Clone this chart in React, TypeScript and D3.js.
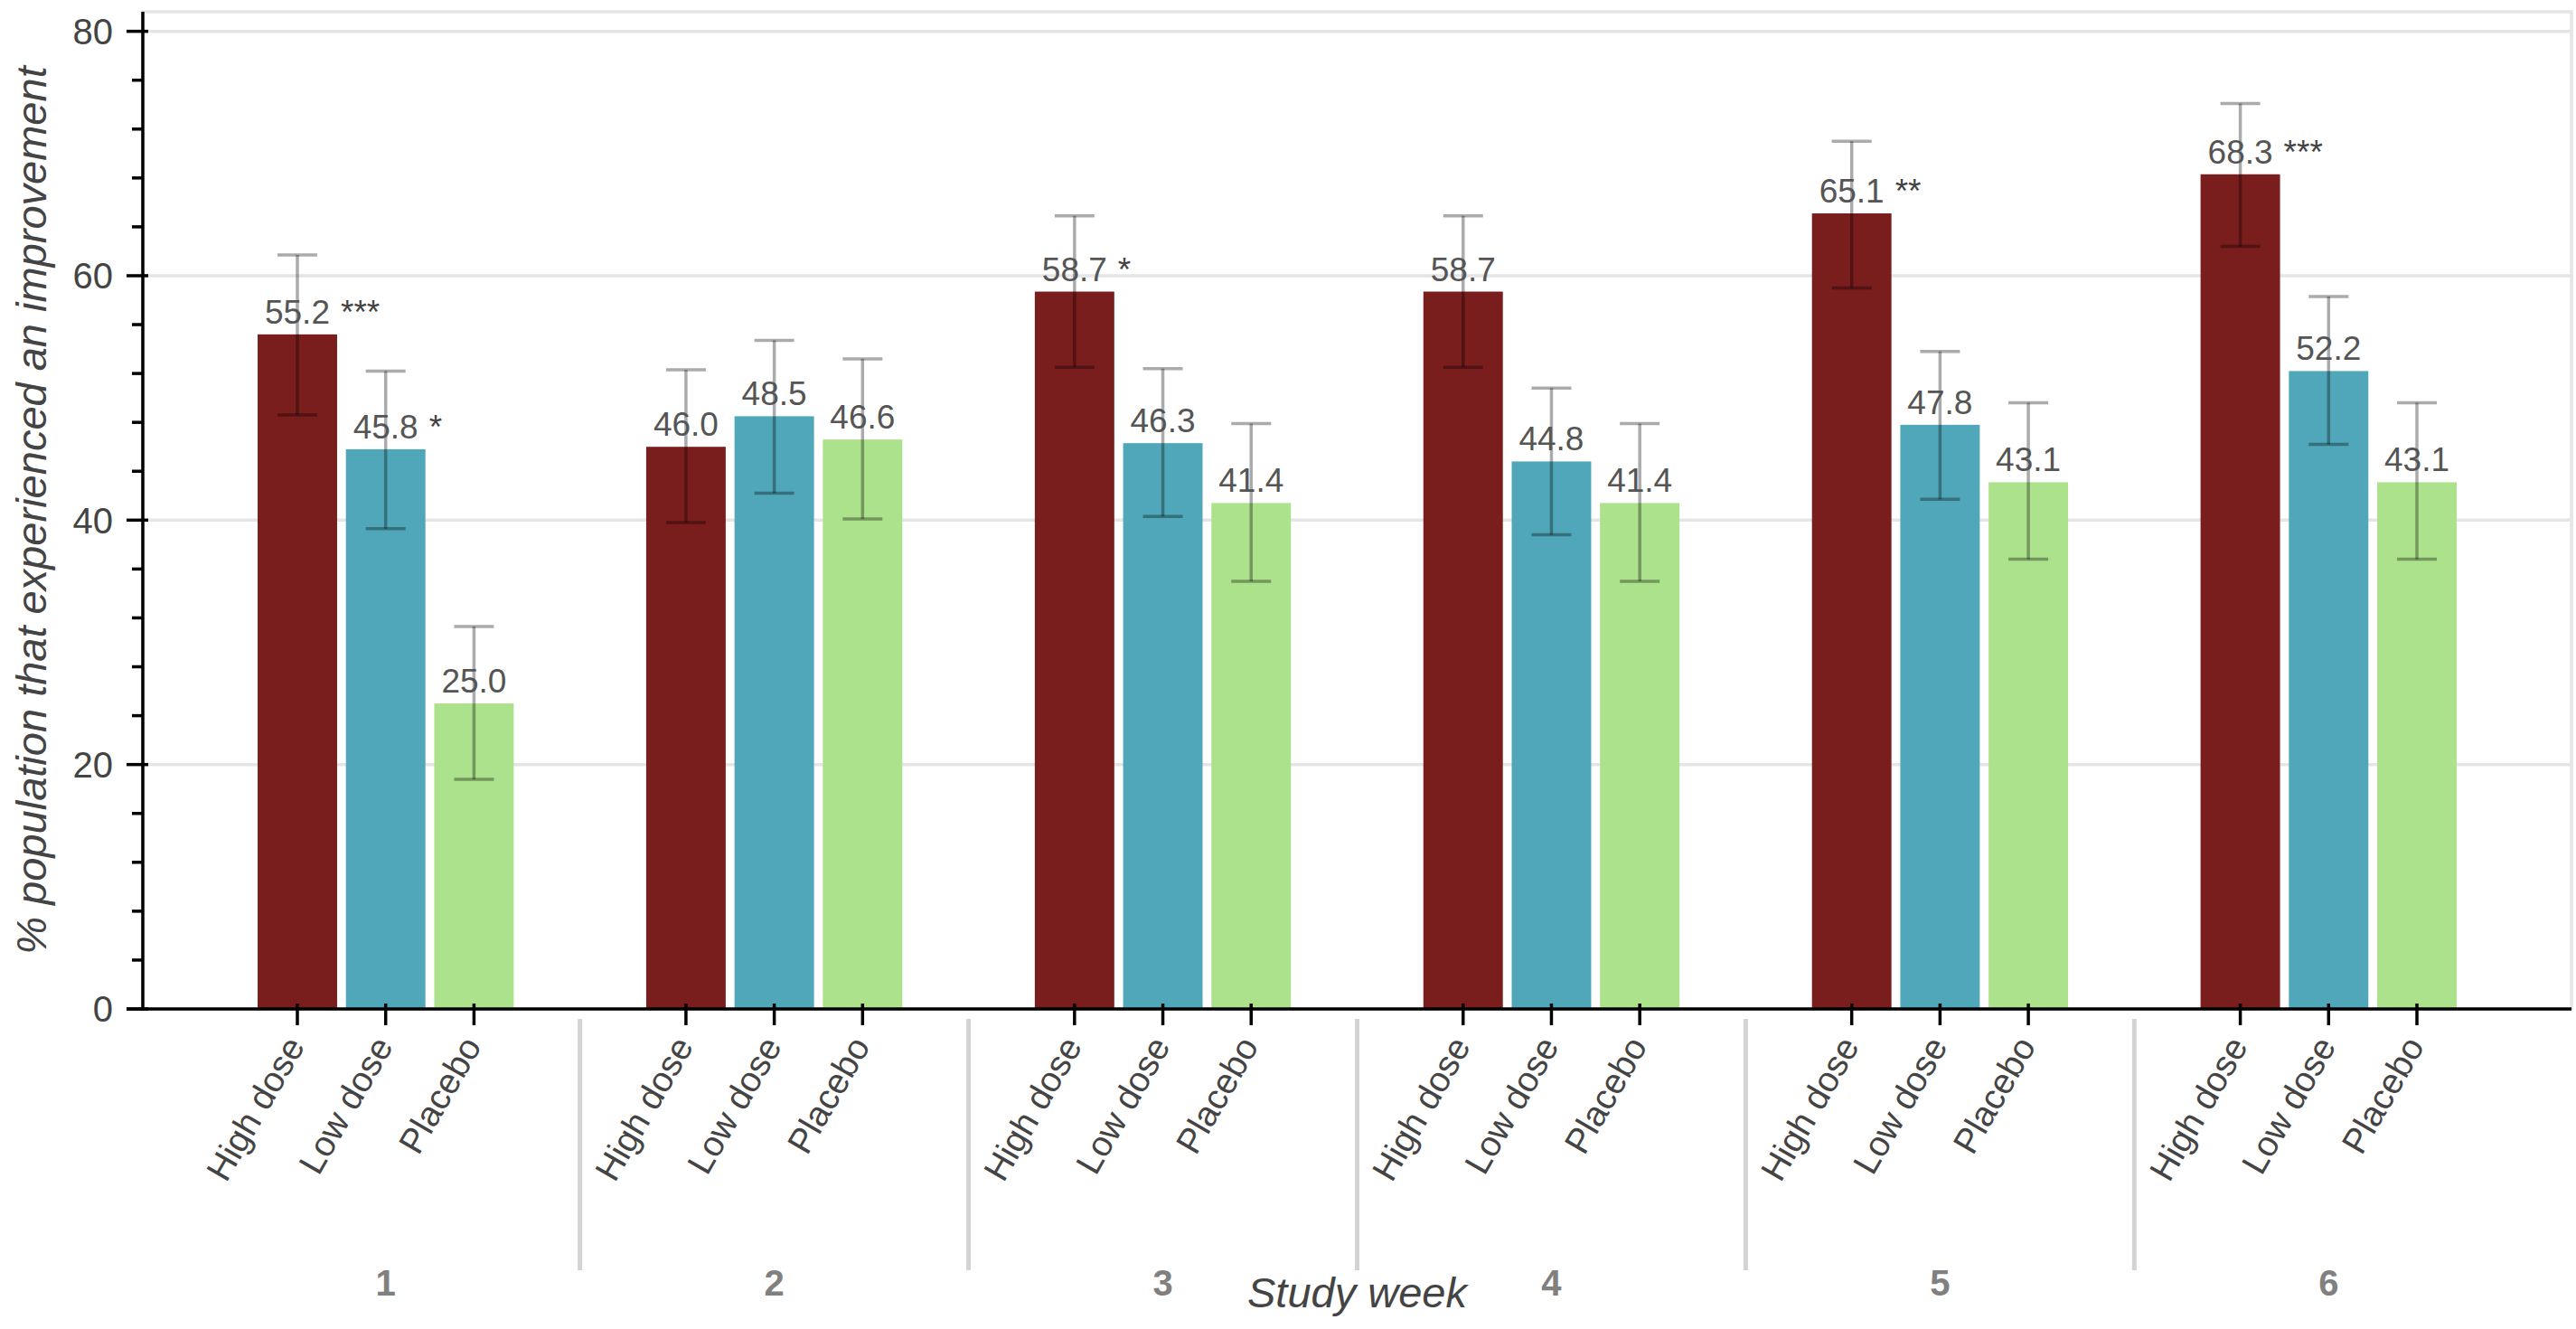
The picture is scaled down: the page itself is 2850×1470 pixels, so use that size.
import * as d3 from 'd3'
import React, { useEffect, useRef } from 'react'

const weeks = ['1', '2', '3', '4', '5', '6'];
const treatments = ['High dose', 'Low dose', 'Placebo'];
const colors = ['#7a1d1d', '#50a7b9', '#ace28b'];

const highDose = [55.2, 46.0, 58.7, 58.7, 65.1, 68.3];
const lowDose = [45.8, 48.5, 46.3, 44.8, 47.8, 52.2];
const placebo = [25.0, 46.6, 41.4, 41.4, 43.1, 43.1];

const highUpper = [61.7, 52.3, 64.9, 64.9, 71.0, 74.1];
const highLower = [48.6, 39.8, 52.5, 52.5, 59.0, 62.4];
const lowUpper = [52.2, 54.7, 52.4, 50.8, 53.8, 58.3];
const lowLower = [39.3, 42.2, 40.3, 38.8, 41.7, 46.2];
const placeboUpper = [31.3, 53.2, 47.9, 47.9, 49.6, 49.6];
const placeboLower = [18.8, 40.1, 35.0, 35.0, 36.8, 36.8];

const highStars = ['***', '', '*', '', '**', '***'];
const lowStars = ['*', '', '', '', '', ''];
const placeboStars = ['', '', '', '', '', ''];

const yMajor = [0, 20, 40, 60, 80];

const W = 2850;
const H = 1470;
const FONT = '"Liberation Sans", Arial, Helvetica, sans-serif';

interface Row {
    week: string;
    treatment: string;
    value: number;
    lower: number;
    upper: number;
    stars: string;
    color: string;
}

const App: React.FC = () => {
    const ref = useRef<SVGSVGElement>(null);

    useEffect(() => {
        document.body.style.margin = '0';
        if (!ref.current) return;
        const svg = d3.select(ref.current);
        svg.selectAll('*').remove();

        const margin = { top: 13, right: 5, bottom: 354, left: 158 };
        const bottom = H - margin.bottom;
        const right = W - margin.right;

        const series = [highDose, lowDose, placebo];
        const uppers = [highUpper, lowUpper, placeboUpper];
        const lowers = [highLower, lowLower, placeboLower];
        const stars = [highStars, lowStars, placeboStars];

        const rows: Row[] = [];
        weeks.forEach((w, i) => {
            treatments.forEach((t, j) => {
                rows.push({
                    week: w,
                    treatment: t,
                    value: series[j][i],
                    lower: lowers[j][i],
                    upper: uppers[j][i],
                    stars: stars[j][i],
                    color: colors[j],
                });
            });
        });

        // outer bands = study weeks, inner bands = treatment arms
        const x0 = d3.scaleBand<string>()
            .domain(weeks)
            .range([margin.left, right])
            .paddingInner(1.4 / 4.4)
            .paddingOuter(1.25 / 4.4);

        const x1 = d3.scaleBand<string>()
            .domain(treatments)
            .range([0, x0.bandwidth()])
            .paddingInner(0.1)
            .paddingOuter(0.05);

        const y = d3.scaleLinear().domain([0, 81.6]).range([bottom, margin.top]);

        const cx = (d: Row) => (x0(d.week) as number) + (x1(d.treatment) as number) + x1.bandwidth() / 2;

        // grid
        svg.append('g')
            .selectAll('line')
            .data(yMajor)
            .enter()
            .append('line')
            .attr('x1', margin.left)
            .attr('x2', right)
            .attr('y1', d => y(d))
            .attr('y2', d => y(d))
            .attr('stroke', '#e5e5e5')
            .attr('stroke-width', 3.5);

        // outline
        svg.append('rect')
            .attr('x', margin.left)
            .attr('y', margin.top)
            .attr('width', right - margin.left)
            .attr('height', bottom - margin.top)
            .attr('fill', 'none')
            .attr('stroke', '#e5e5e5')
            .attr('stroke-width', 3.5);

        // bars
        svg.append('g')
            .selectAll('rect')
            .data(rows)
            .enter()
            .append('rect')
            .attr('x', d => (x0(d.week) as number) + (x1(d.treatment) as number))
            .attr('y', d => y(d.value))
            .attr('width', x1.bandwidth())
            .attr('height', d => y(0) - y(d.value))
            .attr('fill', d => d.color);

        // error bars
        const err = svg.append('g')
            .attr('stroke', 'rgba(0,0,0,0.33)')
            .attr('stroke-width', 3.5);
        err.selectAll('line.stem')
            .data(rows)
            .enter()
            .append('line')
            .attr('class', 'stem')
            .attr('x1', cx)
            .attr('x2', cx)
            .attr('y1', d => y(d.lower))
            .attr('y2', d => y(d.upper));
        const capW = 22;
        ['upper', 'lower'].forEach(k => {
            err.selectAll(`line.cap-${k}`)
                .data(rows)
                .enter()
                .append('line')
                .attr('class', `cap-${k}`)
                .attr('x1', d => cx(d) - capW)
                .attr('x2', d => cx(d) + capW)
                .attr('y1', d => y(k === 'upper' ? d.upper : d.lower))
                .attr('y2', d => y(k === 'upper' ? d.upper : d.lower));
        });

        // value labels
        const labels = svg.append('g')
            .attr('font-family', FONT)
            .attr('font-size', 37)
            .attr('fill', '#555555')
            .attr('text-anchor', 'middle')
            .selectAll('text')
            .data(rows)
            .enter()
            .append('text')
            .attr('x', cx)
            .attr('y', d => y(d.value) - 12)
            .text(d => d.value.toFixed(1));

        const halfWidths = new Map<Row, number>();
        labels.each(function (d) {
            halfWidths.set(d, (this as SVGTextElement).getComputedTextLength() / 2);
        });

        // significance stars
        svg.append('g')
            .attr('font-family', FONT)
            .attr('font-size', 37)
            .attr('fill', '#444444')
            .selectAll('text')
            .data(rows.filter(d => d.stars))
            .enter()
            .append('text')
            .attr('x', d => cx(d) + (halfWidths.get(d) || 36) + 12)
            .attr('y', d => y(d.value) - 12)
            .text(d => d.stars);

        // y axis
        const yAxis = svg.append('g');
        yAxis.append('line')
            .attr('x1', margin.left)
            .attr('x2', margin.left)
            .attr('y1', margin.top)
            .attr('y2', bottom + 1.75)
            .attr('stroke', '#000')
            .attr('stroke-width', 3.5);
        yAxis.selectAll('line.minor')
            .data(d3.range(0, 81, 4).filter(v => v % 20 !== 0))
            .enter()
            .append('line')
            .attr('class', 'minor')
            .attr('x1', margin.left - 12)
            .attr('x2', margin.left)
            .attr('y1', d => y(d))
            .attr('y2', d => y(d))
            .attr('stroke', '#000')
            .attr('stroke-width', 3.5);
        yAxis.selectAll('line.major')
            .data(yMajor)
            .enter()
            .append('line')
            .attr('class', 'major')
            .attr('x1', margin.left - 18)
            .attr('x2', margin.left + 6)
            .attr('y1', d => y(d))
            .attr('y2', d => y(d))
            .attr('stroke', '#000')
            .attr('stroke-width', 3.5);
        yAxis.selectAll('text')
            .data(yMajor)
            .enter()
            .append('text')
            .attr('x', margin.left - 33)
            .attr('y', d => y(d))
            .attr('dy', '0.36em')
            .attr('text-anchor', 'end')
            .attr('font-family', FONT)
            .attr('font-size', 40)
            .attr('fill', '#444444')
            .text(d => d);

        // x axis
        const xAxis = svg.append('g');
        xAxis.append('line')
            .attr('x1', margin.left - 18)
            .attr('x2', right)
            .attr('y1', bottom)
            .attr('y2', bottom)
            .attr('stroke', '#000')
            .attr('stroke-width', 3.5);
        xAxis.selectAll('line.tick')
            .data(rows)
            .enter()
            .append('line')
            .attr('class', 'tick')
            .attr('x1', cx)
            .attr('x2', cx)
            .attr('y1', bottom - 6)
            .attr('y2', bottom + 18)
            .attr('stroke', '#000')
            .attr('stroke-width', 3.5);
        xAxis.selectAll('text.factor')
            .data(rows)
            .enter()
            .append('text')
            .attr('class', 'factor')
            .attr('transform', d => `translate(${cx(d) - 3}, ${bottom + 34}) rotate(-60)`)
            .attr('dy', '0.36em')
            .attr('text-anchor', 'end')
            .attr('font-family', FONT)
            .attr('font-size', 39)
            .attr('fill', '#444444')
            .text(d => d.treatment);

        // group separators
        xAxis.selectAll('line.sep')
            .data(weeks.slice(1))
            .enter()
            .append('line')
            .attr('class', 'sep')
            .attr('x1', d => (x0(d) as number) - (x0.step() - x0.bandwidth()) / 2)
            .attr('x2', d => (x0(d) as number) - (x0.step() - x0.bandwidth()) / 2)
            .attr('y1', bottom + 11)
            .attr('y2', bottom + 289)
            .attr('stroke', 'lightgrey')
            .attr('stroke-width', 5);

        // group labels
        xAxis.selectAll('text.group')
            .data(weeks)
            .enter()
            .append('text')
            .attr('class', 'group')
            .attr('x', d => (x0(d) as number) + x0.bandwidth() / 2)
            .attr('y', bottom + 317)
            .attr('text-anchor', 'middle')
            .attr('font-family', FONT)
            .attr('font-size', 40)
            .attr('font-weight', 'bold')
            .attr('fill', 'grey')
            .text(d => d);

        // axis titles
        svg.append('text')
            .attr('x', (margin.left + right) / 2)
            .attr('y', bottom + 330)
            .attr('text-anchor', 'middle')
            .attr('font-family', FONT)
            .attr('font-size', 47)
            .attr('font-style', 'italic')
            .attr('fill', '#444444')
            .text('Study week');

        svg.append('text')
            .attr('transform', `translate(34, ${(margin.top + bottom) / 2}) rotate(-90)`)
            .attr('dy', '0.36em')
            .attr('text-anchor', 'middle')
            .attr('font-family', FONT)
            .attr('font-size', 47)
            .attr('font-style', 'italic')
            .attr('fill', '#444444')
            .text('% population that experienced an improvement');
    }, []);

    return <svg ref={ref} width={W} height={H} style={{ display: 'block', background: '#fff' }}></svg>;
};

export default App;
